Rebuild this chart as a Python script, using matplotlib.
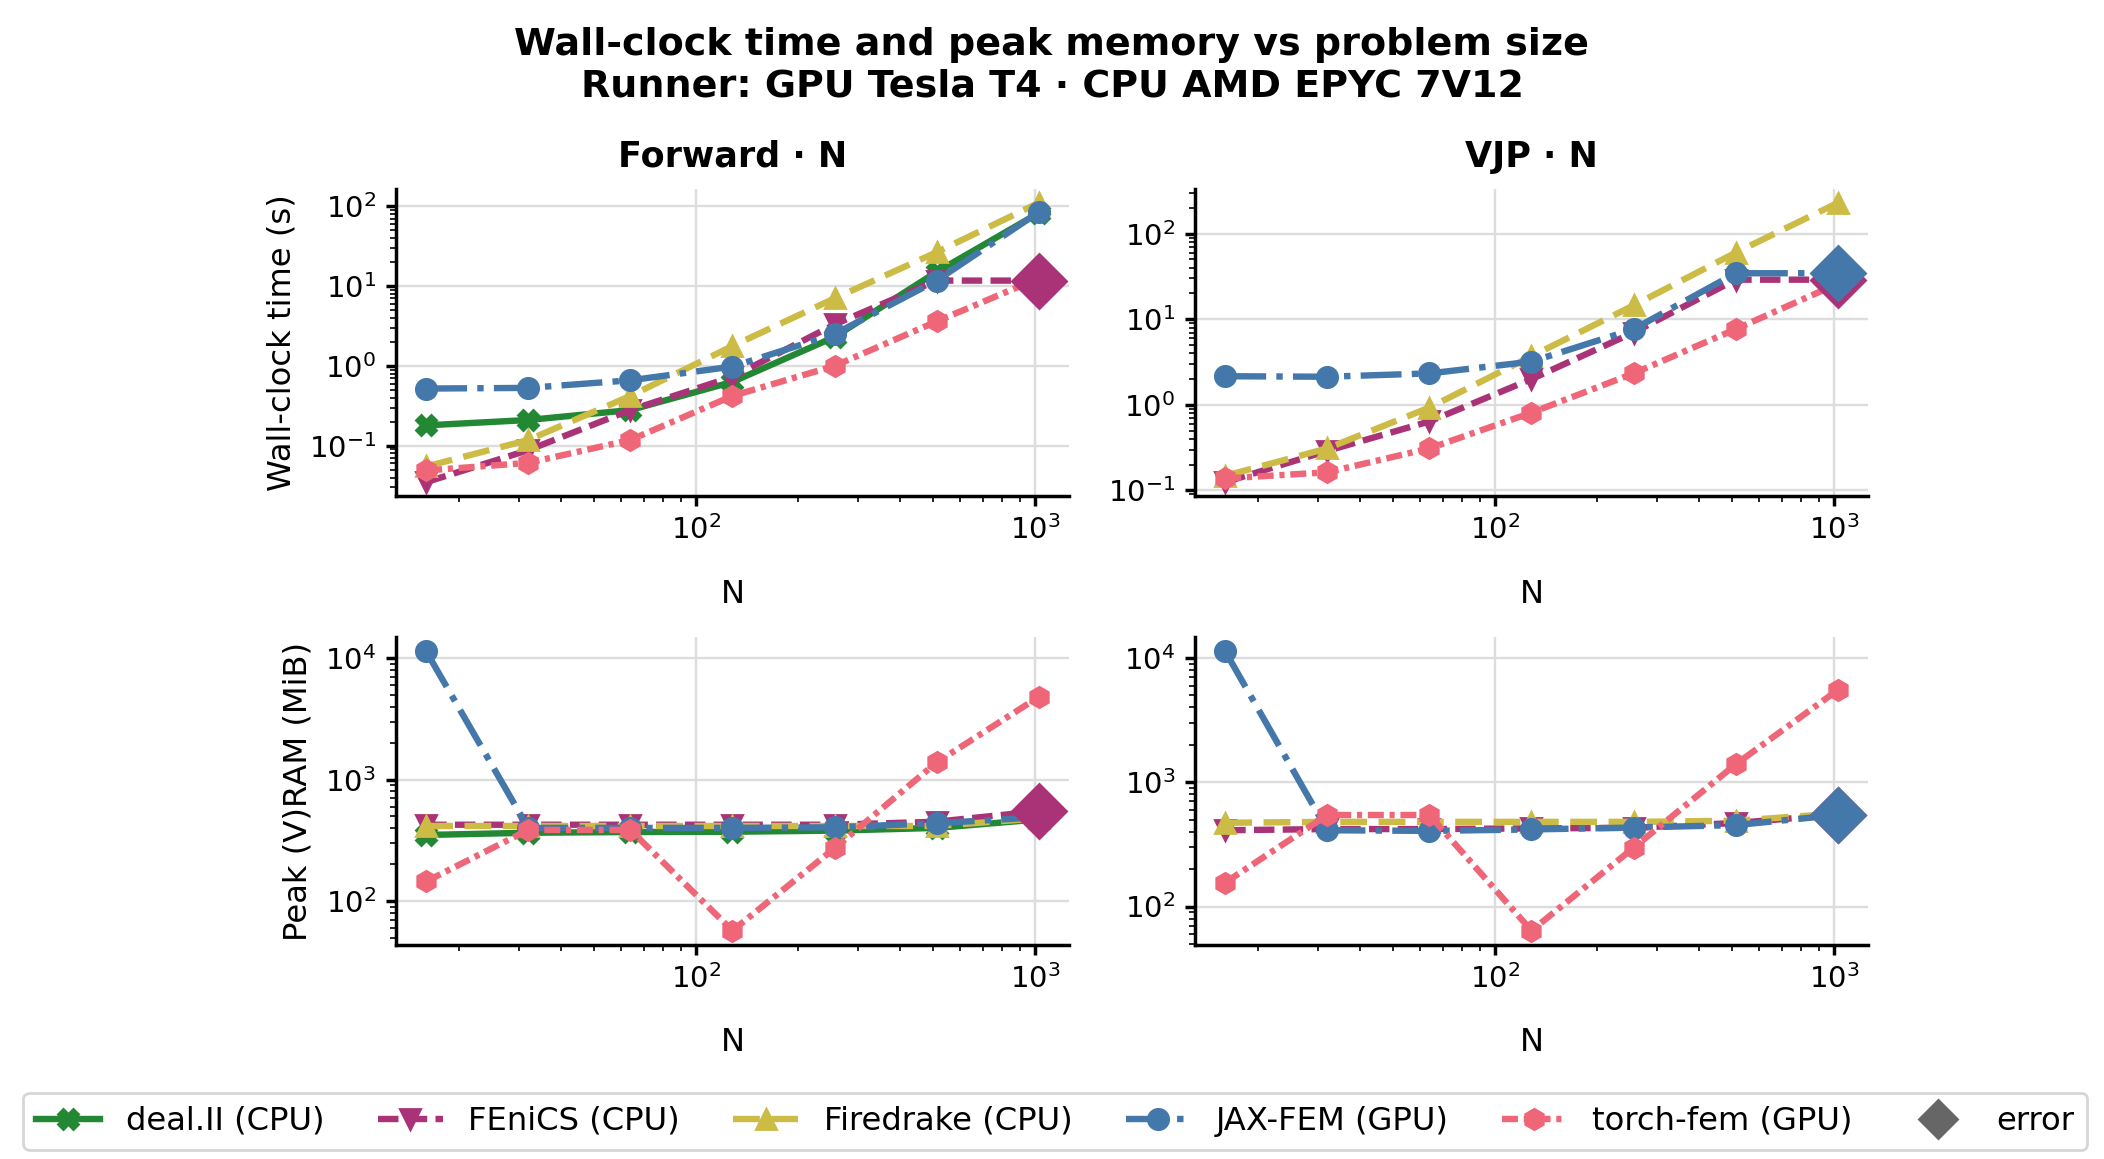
import numpy as np
import matplotlib
matplotlib.use("Agg")
import matplotlib.pyplot as plt
from matplotlib.lines import Line2D

# problem sizes
N = [16, 32, 64, 128, 256, 512, 1024]

solvers = ["deal.II (CPU)", "FEniCS (CPU)", "Firedrake (CPU)", "JAX-FEM (GPU)", "torch-fem (GPU)"]
colors = ["#228833", "#AA3377", "#CCBB44", "#4477AA", "#EE6677"]
markers = ["X", "v", "^", "o", "h"]
styles = ["-", (0, (3.2, 1.3)), (0, (4.2, 1.8)), "-.", (0, (2.5, 0.9, 0.8, 0.9))]

# forward wall-clock time (s); None = not run
fwd_time = {
    "deal.II (CPU)": [0.18, 0.21, 0.28, 0.63, 2.3, 15.0, 82],
    "FEniCS (CPU)": [0.035, 0.088, 0.28, 0.73, 3.3, 11.7, 11.7],
    "Firedrake (CPU)": [0.055, 0.118, 0.42, 1.77, 7.0, 26.5, 110],
    "JAX-FEM (GPU)": [0.52, 0.53, 0.66, 0.98, 2.5, 11.7, 84],
    "torch-fem (GPU)": [0.049, 0.061, 0.118, 0.42, 1.0, 3.6, 12.5],
}
fwd_mem = {
    "deal.II (CPU)": [350, 365, 370, 372, 380, 400, 470],
    "FEniCS (CPU)": [425, 425, 425, 425, 425, 450, 550],
    "Firedrake (CPU)": [415, 415, 415, 415, 415, 415, 480],
    "JAX-FEM (GPU)": [11400, 400, 400, 400, 405, 437, 490],
    "torch-fem (GPU)": [145, 385, 385, 57, 272, 1385, 4800],
}
fwd_err = {"FEniCS (CPU)": 6}

vjp_time = {
    "deal.II (CPU)": None,
    "FEniCS (CPU)": [0.125, 0.29, 0.64, 2.0, 7.0, 29, 29],
    "Firedrake (CPU)": [0.148, 0.31, 0.93, 3.7, 14.5, 60, 229],
    "JAX-FEM (GPU)": [2.16, 2.13, 2.33, 3.2, 7.66, 34.5, 34.5],
    "torch-fem (GPU)": [0.138, 0.163, 0.31, 0.81, 2.33, 7.66, 26],
}
vjp_mem = {
    "deal.II (CPU)": None,
    "FEniCS (CPU)": [411, 420, 420, 425, 430, 470, 550],
    "Firedrake (CPU)": [472, 480, 480, 480, 480, 490, 560],
    "JAX-FEM (GPU)": [11300, 411, 406, 417, 432, 452, 545],
    "torch-fem (GPU)": [156, 545, 545, 64, 297, 1393, 5520],
}
vjp_err = {"FEniCS (CPU)": 6, "JAX-FEM (GPU)": 6}

plt.rcParams["font.family"] = ["DejaVu Sans"]

fig, axes = plt.subplots(2, 2, figsize=(10.52, 5.795), dpi=200)
fig.subplots_adjust(left=0.188, right=0.888, top=0.837, bottom=0.185,
                    wspace=0.186, hspace=0.46)


def draw(ax, data, errs):
    for name, c, m, ls in zip(solvers, colors, markers, styles):
        y = data[name]
        if y is None:
            continue
        e = errs.get(name)
        every = [i for i in range(len(N)) if i != e]
        ax.plot(N, y, color=c, marker=m, ls=ls, lw=2.3, ms=7.3,
                markevery=every, label=name)
    for name, c in zip(solvers, colors):
        e = errs.get(name)
        if e is not None:
            ax.plot(N[e], data[name][e], marker="D", color=c, ms=13.5,
                    ls="none", zorder=5)
    ax.set_xscale("log")
    ax.set_yscale("log")
    ax.grid(True, which="major", color="#dddddd", lw=0.85)
    ax.set_axisbelow(True)
    for s in ["top", "right"]:
        ax.spines[s].set_visible(False)
    for s in ["left", "bottom"]:
        ax.spines[s].set_linewidth(1.25)
    ax.tick_params(labelsize=10.5, width=1.25)
    ax.set_xlabel("N", fontsize=11.6, labelpad=12)


draw(axes[0, 0], fwd_time, fwd_err)
draw(axes[0, 1], vjp_time, vjp_err)
draw(axes[1, 0], fwd_mem, fwd_err)
draw(axes[1, 1], vjp_mem, vjp_err)

axes[0, 0].set_title("Forward · N", fontsize=12.6, fontweight="bold", pad=8)
axes[0, 1].set_title("VJP · N", fontsize=12.6, fontweight="bold", pad=8)
axes[0, 0].set_ylabel("Wall-clock time (s)", fontsize=11.6)
axes[1, 0].set_ylabel("Peak (V)RAM (MiB)", fontsize=11.6)

fig.suptitle("Wall-clock time and peak memory vs problem size\nRunner: GPU Tesla T4 · CPU AMD EPYC 7V12",
             fontsize=13.7, fontweight="bold", y=0.943, va="center")

handles = [Line2D([], [], color=c, marker=m, ls=ls, lw=2.3, ms=7.3)
           for c, m, ls in zip(colors, markers, styles)]
handles.append(Line2D([], [], color="#666666", marker="D", ls="none", ms=9.5))
labels = solvers + ["error"]
fig.legend(handles, labels, loc="lower left", ncol=6, mode="expand",
           bbox_to_anchor=(0.011, 0.008, 0.981, 0.05), fontsize=11.6,
           frameon=True, borderaxespad=0.0)

fig.savefig("out.png", dpi=200)
